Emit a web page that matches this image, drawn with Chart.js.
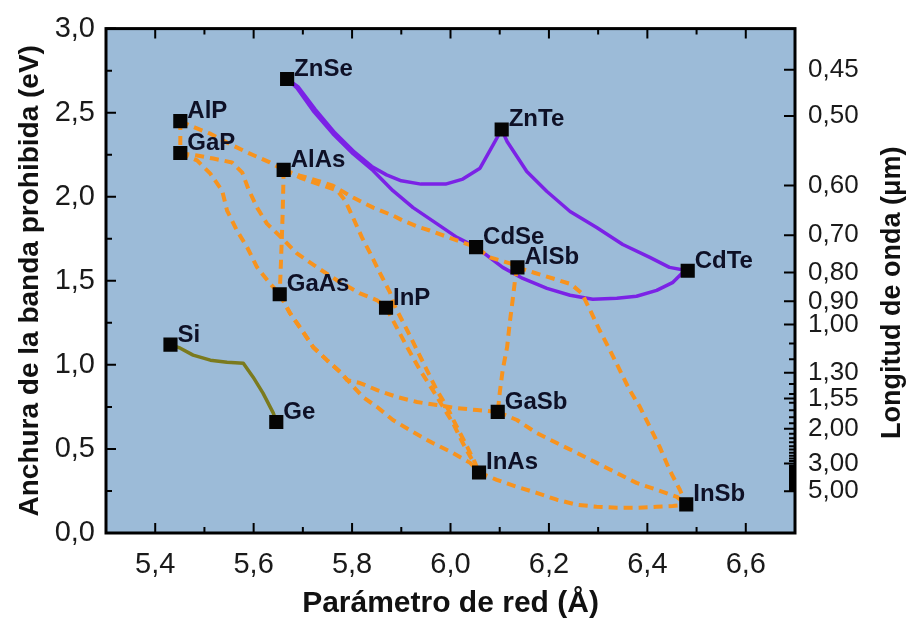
<!DOCTYPE html>
<html>
<head>
<meta charset="utf-8">
<script src="https://cdn.jsdelivr.net/npm/chart.js@4.4.1/dist/chart.umd.min.js"></script>
<style>
  html, body { margin: 0; padding: 0; background: #fff; }
  #wrap { width: 916px; height: 625px; }
</style>
</head>
<body>
<div id="wrap"><canvas id="gapChart"></canvas></div>
<script>
const FONT = "'Liberation Sans', Arial, Helvetica, sans-serif";

// binary compounds: lattice constant (Å) and band gap (eV)
const compounds    = ['ZnSe', 'AlP', 'GaP', 'AlAs', 'GaAs', 'InP', 'ZnTe', 'CdSe', 'AlSb', 'CdTe', 'Si', 'Ge', 'GaSb', 'InAs', 'InSb'];
const latticeConst = [5.668, 5.451, 5.451, 5.661, 5.653, 5.869, 6.104, 6.052, 6.136, 6.482, 5.431, 5.646, 6.096, 6.058, 6.479];
const bandGap      = [2.70, 2.45, 2.26, 2.16, 1.42, 1.34, 2.40, 1.70, 1.58, 1.56, 1.12, 0.66, 0.72, 0.36, 0.17];

// axis ticks
const xTicks = [5.4, 5.6, 5.8, 6.0, 6.2, 6.4, 6.6];
const xMinor = [5.3, 5.5, 5.7, 5.9, 6.1, 6.3, 6.5, 6.7];
const yTicks = [0, 0.5, 1.0, 1.5, 2.0, 2.5, 3.0];
const yMinor = [0.25, 0.75, 1.25, 1.75, 2.25, 2.75];
// wavelength axis (µm), placed at E = 1.24 / λ
const wavelengths = [0.45, 0.50, 0.60, 0.70, 0.80, 0.90, 1.00, 1.30, 1.55, 2.00, 3.00, 5.00];
const wavelengthMinor = [1.1, 1.2, 1.4, 1.5, 1.6, 1.7, 1.8, 1.9, 2.1, 2.2, 2.3, 2.4, 2.5, 2.6, 2.7, 2.8, 2.9,
  3.1, 3.2, 3.3, 3.4, 3.5, 3.6, 3.7, 3.8, 3.9, 4.0, 4.1, 4.2, 4.3, 4.4, 4.5, 4.6, 4.7, 4.8, 4.9];

// III-V alloys (dashed)
const AlP_GaP  = [[5.451, 2.45], [5.451, 2.26]];
const AlP_AlAs = [[5.451, 2.45], [5.481, 2.411], [5.512, 2.375], [5.546, 2.322], [5.587, 2.263], [5.633, 2.204], [5.661, 2.16]];
const GaP_InP  = [[5.451, 2.26], [5.485, 2.245], [5.518, 2.227], [5.556, 2.204], [5.577, 2.143], [5.589, 2.048], [5.607, 1.935],
  [5.627, 1.840], [5.658, 1.752], [5.688, 1.663], [5.729, 1.580], [5.770, 1.502], [5.816, 1.425], [5.851, 1.384], [5.869, 1.34]];
const GaP_GaAs = [[5.451, 2.26], [5.485, 2.216], [5.512, 2.137], [5.536, 2.036], [5.546, 1.918], [5.566, 1.799], [5.587, 1.698],
  [5.607, 1.580], [5.633, 1.485], [5.653, 1.42]];
const AlAs_GaAs = [[5.661, 2.16], [5.659, 1.90], [5.656, 1.65], [5.653, 1.42]];
const AlAs_AlSb = [[5.661, 2.16], [5.694, 2.126], [5.729, 2.096], [5.761, 2.066], [5.802, 1.995], [5.843, 1.935], [5.883, 1.888],
  [5.904, 1.857], [5.938, 1.817], [5.958, 1.799], [6.013, 1.740], [6.052, 1.70], [6.080, 1.639], [6.121, 1.604], [6.136, 1.58]];
const AlAs_InAs = [[5.661, 2.16], [5.694, 2.114], [5.741, 2.066], [5.770, 2.036], [5.786, 1.977], [5.802, 1.876], [5.820, 1.758],
  [5.837, 1.663], [5.857, 1.544], [5.877, 1.431], [5.885, 1.36], [5.891, 1.325], [5.912, 1.206], [5.932, 1.087], [5.952, 0.969],
  [5.972, 0.850], [5.993, 0.749], [6.013, 0.631], [6.034, 0.512], [6.050, 0.417], [6.058, 0.36]];
const InP_InAs = [[5.869, 1.34], [5.883, 1.265], [5.912, 1.105], [5.938, 0.969], [5.964, 0.850], [5.985, 0.749], [6.005, 0.654],
  [6.025, 0.535], [6.044, 0.435], [6.058, 0.36]];
const GaAs_GaSb = [[5.653, 1.42], [5.674, 1.307], [5.698, 1.206], [5.721, 1.105], [5.749, 1.028], [5.776, 0.957], [5.790, 0.909],
  [5.816, 0.892], [5.851, 0.850], [5.891, 0.809], [5.932, 0.779], [5.972, 0.761], [6.013, 0.743], [6.054, 0.731], [6.096, 0.72]];
const GaAs_InAs = [[5.653, 1.42], [5.674, 1.307], [5.698, 1.206], [5.721, 1.105], [5.749, 1.028], [5.776, 0.957], [5.796, 0.892],
  [5.822, 0.809], [5.851, 0.749], [5.883, 0.672], [5.924, 0.600], [5.964, 0.535], [6.005, 0.476], [6.040, 0.417], [6.058, 0.36]];
const AlSb_GaSb = [[6.136, 1.58], [6.131, 1.502], [6.127, 1.402], [6.121, 1.265], [6.115, 1.105], [6.106, 0.969], [6.100, 0.832], [6.096, 0.72]];
const GaSb_InSb = [[6.096, 0.72], [6.135, 0.672], [6.175, 0.595], [6.216, 0.535], [6.257, 0.476], [6.297, 0.417], [6.338, 0.357],
  [6.378, 0.298], [6.419, 0.257], [6.460, 0.215], [6.479, 0.17]];
const InAs_InSb = [[6.058, 0.36], [6.094, 0.316], [6.135, 0.274], [6.175, 0.239], [6.216, 0.198], [6.257, 0.168], [6.297, 0.156],
  [6.338, 0.150], [6.378, 0.150], [6.419, 0.156], [6.452, 0.160], [6.479, 0.17]];
const AlSb_InSb = [[6.136, 1.58], [6.170, 1.548], [6.210, 1.512], [6.245, 1.480], [6.267, 1.425], [6.283, 1.330], [6.303, 1.206],
  [6.324, 1.087], [6.344, 0.969], [6.364, 0.850], [6.385, 0.749], [6.405, 0.631], [6.425, 0.512], [6.445, 0.376], [6.466, 0.257], [6.479, 0.17]];

// II-VI alloys (solid purple)
const ZnSe_CdSe = [[5.668, 2.70], [5.688, 2.647], [5.721, 2.511], [5.761, 2.375], [5.802, 2.256], [5.843, 2.155], [5.883, 2.036],
  [5.924, 1.935], [5.972, 1.840], [6.013, 1.758], [6.052, 1.70]];
const ZnSe_ZnTe = [[5.668, 2.70], [5.690, 2.655], [5.725, 2.520], [5.765, 2.380], [5.805, 2.265], [5.840, 2.180], [5.870, 2.130],
  [5.900, 2.095], [5.940, 2.075], [5.990, 2.075], [6.025, 2.105], [6.060, 2.170], [6.080, 2.274], [6.104, 2.40]];
const ZnTe_CdTe = [[6.104, 2.40], [6.115, 2.328], [6.155, 2.150], [6.196, 2.031], [6.243, 1.912], [6.297, 1.817], [6.350, 1.716],
  [6.405, 1.639], [6.445, 1.580], [6.482, 1.56]];
const CdSe_CdTe = [[6.052, 1.70], [6.074, 1.651], [6.106, 1.580], [6.147, 1.514], [6.196, 1.455], [6.243, 1.414], [6.289, 1.390],
  [6.338, 1.396], [6.378, 1.408], [6.419, 1.443], [6.452, 1.491], [6.472, 1.550], [6.482, 1.56]];

// group IV (solid olive)
const Si_Ge = [[5.431, 1.12], [5.451, 1.099], [5.477, 1.058], [5.512, 1.028], [5.546, 1.016], [5.579, 1.010], [5.599, 0.927],
  [5.619, 0.832], [5.640, 0.713], [5.646, 0.66]];

const IIIV = [AlP_GaP, AlP_AlAs, GaP_InP, GaP_GaAs, AlAs_GaAs, AlAs_AlSb, AlAs_InAs, InP_InAs,
  GaAs_GaSb, GaAs_InAs, AlSb_GaSb, GaSb_InSb, InAs_InSb, AlSb_InSb];
const IIVI = [ZnSe_CdSe, ZnSe_ZnTe, ZnTe_CdTe, CdSe_CdTe];

const comma = (v, d) => v.toFixed(d).replace('.', ',');

const curve = (pts, color, width, dash) => ({
  data: pts.map(p => ({x: p[0], y: p[1]})),
  showLine: true,
  borderColor: color,
  borderWidth: width,
  borderDash: dash || [],
  borderJoinStyle: 'round',
  pointRadius: 0,
  tension: 0,
  fill: false
});

// plot background
const plotBackground = {
  id: 'plotBackground',
  beforeDraw(chart) {
    const {ctx, chartArea: a} = chart;
    ctx.save();
    ctx.fillStyle = '#9cbbd8';
    ctx.fillRect(a.left, a.top, a.right - a.left, a.bottom - a.top);
    ctx.restore();
  }
};

// compound names next to the markers
const compoundLabels = {
  id: 'compoundLabels',
  afterDatasetsDraw(chart) {
    const {ctx} = chart;
    const meta = chart.getDatasetMeta(0);
    ctx.save();
    ctx.font = 'bold 24px ' + FONT;
    ctx.fillStyle = '#0e1026';
    ctx.textAlign = 'left';
    ctx.textBaseline = 'alphabetic';
    meta.data.forEach((pt, i) => ctx.fillText(compounds[i], pt.x + 7, pt.y - 3));
    ctx.restore();
  }
};

// frame, inward tick marks and the right-hand title
const frameTicks = {
  id: 'frameTicks',
  afterDraw(chart) {
    const {ctx, chartArea: a} = chart;
    const {x, y, y2} = chart.scales;
    ctx.save();
    ctx.strokeStyle = '#000';
    ctx.lineWidth = 2;
    ctx.beginPath();
    const vt = (v, len) => {
      const px = x.getPixelForValue(v);
      ctx.moveTo(px, a.bottom); ctx.lineTo(px, a.bottom - len);
      ctx.moveTo(px, a.top); ctx.lineTo(px, a.top + len);
    };
    const lt = (v, len) => {
      const py = y.getPixelForValue(v);
      ctx.moveTo(a.left, py); ctx.lineTo(a.left + len, py);
    };
    const rt = (lam, len) => {
      const py = y2.getPixelForValue(1.24 / lam);
      ctx.moveTo(a.right, py); ctx.lineTo(a.right - len, py);
    };
    xTicks.forEach(v => vt(v, 10));
    xMinor.forEach(v => vt(v, 6));
    yTicks.forEach(v => lt(v, 10));
    yMinor.forEach(v => lt(v, 6));
    wavelengths.forEach(l => rt(l, 11));
    wavelengthMinor.forEach(l => rt(l, 6));
    ctx.stroke();

    ctx.lineWidth = 3;
    ctx.strokeRect(a.left, a.top, a.right - a.left, a.bottom - a.top);

    ctx.translate(a.right + 98, (a.top + a.bottom) / 2 + 12);
    ctx.rotate(-Math.PI / 2);
    ctx.font = 'bold 27px ' + FONT;
    ctx.fillStyle = '#111';
    ctx.textAlign = 'center';
    ctx.textBaseline = 'middle';
    ctx.fillText('Longitud de onda (μm)', 0, 0);
    ctx.restore();
  }
};

const tickFont = {family: FONT, size: 29};

new Chart(document.getElementById('gapChart'), {
  type: 'scatter',
  data: {
    datasets: [
      {
        data: compounds.map((c, i) => ({x: latticeConst[i], y: bandGap[i]})),
        pointStyle: 'rect',
        pointRadius: 10,
        backgroundColor: '#050505',
        borderWidth: 0,
        showLine: false
      },
      ...IIIV.map(c => curve(c, '#f7931e', 4, [9, 6])),
      ...IIVI.map(c => curve(c, '#7b22e6', 3.5)),
      curve(Si_Ge, '#7b7a1e', 3.5)
    ]
  },
  options: {
    responsive: true,
    maintainAspectRatio: false,
    animation: false,
    events: [],
    layout: {padding: {top: 28, left: 0, right: 0, bottom: 0}},
    plugins: {legend: {display: false}, tooltip: {enabled: false}},
    scales: {
      x: {
        type: 'linear',
        position: 'bottom',
        min: 5.3,
        max: 6.7,
        afterBuildTicks: s => { s.ticks = xTicks.map(v => ({value: v})); },
        afterFit: s => { s.height = 92; },
        grid: {display: false, drawTicks: false},
        border: {display: false},
        ticks: {callback: v => comma(v, 1), font: tickFont, color: '#1a1a1a', padding: 15, maxRotation: 0, autoSkip: false},
        title: {display: true, text: 'Parámetro de red (Å)', color: '#111',
          font: {family: FONT, size: 30, weight: 'bold'}, padding: {top: 0, bottom: 3}}
      },
      y: {
        type: 'linear',
        position: 'left',
        min: 0,
        max: 3,
        afterBuildTicks: s => { s.ticks = yTicks.map(v => ({value: v})); },
        afterFit: s => { s.width = 106; },
        grid: {display: false, drawTicks: false},
        border: {display: false},
        ticks: {callback: v => comma(v, 1), font: tickFont, color: '#1a1a1a', padding: 11, autoSkip: false},
        title: {display: true, text: 'Anchura de la banda prohibida (eV)', color: '#111',
          font: {family: FONT, size: 28, weight: 'bold'}, padding: {top: 13, bottom: 0}}
      },
      y2: {
        type: 'linear',
        position: 'right',
        min: 0,
        max: 3,
        afterBuildTicks: s => { s.ticks = wavelengths.map(l => ({value: 1.24 / l})); },
        afterFit: s => { s.width = 121; },
        grid: {display: false, drawTicks: false},
        border: {display: false},
        ticks: {callback: (v, i) => comma(wavelengths[i], 2), font: {family: FONT, size: 26}, color: '#1a1a1a', padding: 13, autoSkip: false}
      }
    }
  },
  plugins: [plotBackground, compoundLabels, frameTicks]
});
</script>
</body>
</html>
